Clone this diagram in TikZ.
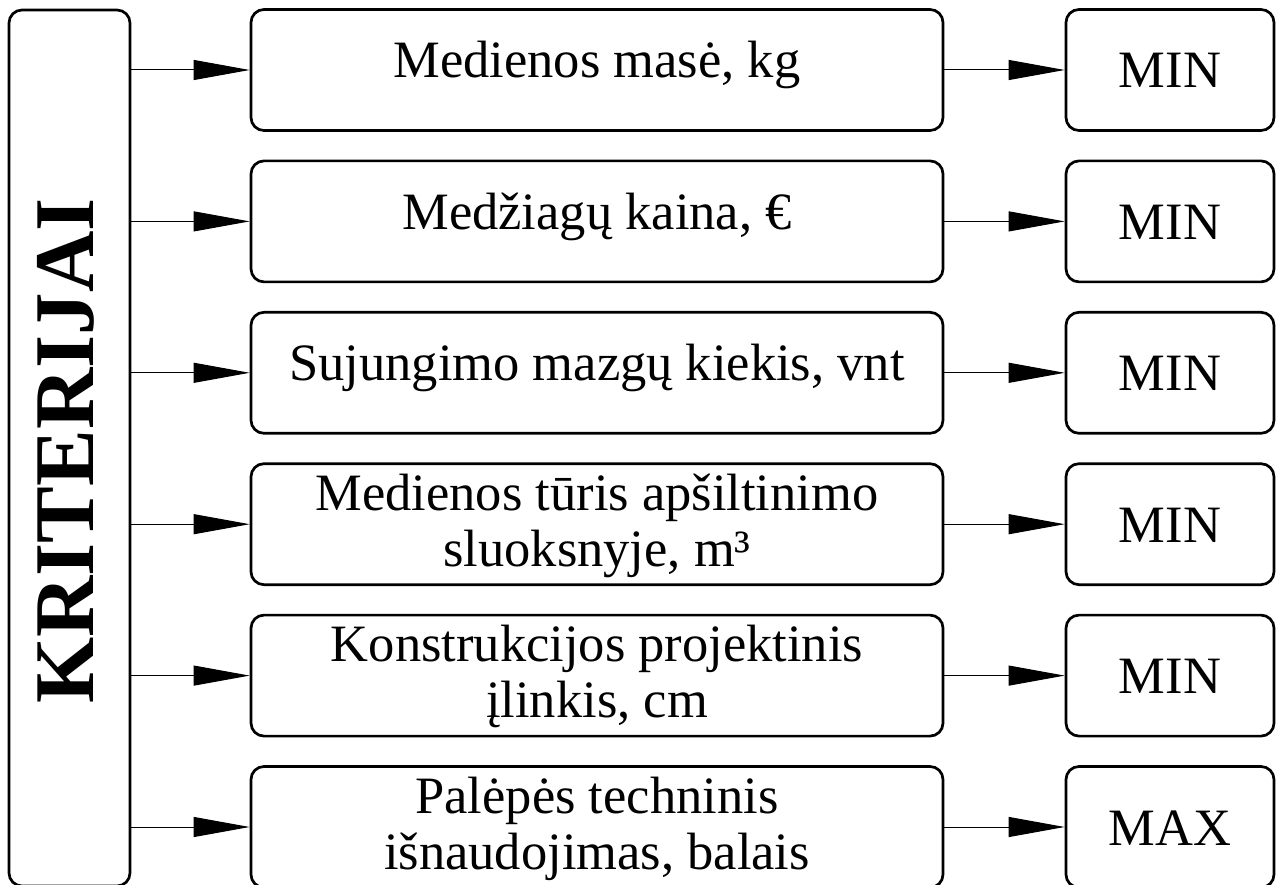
\documentclass[tikz,border=0pt]{standalone}
\usepackage{fontspec}
\setmainfont{Liberation Serif}
\newfontfamily\kfont{Liberation Serif}
\usetikzlibrary{arrows.meta}
\begin{document}
\begin{tikzpicture}[x=1pt,y=-1pt,
  box/.style={draw, line width=2.7pt, rounded corners=13pt, inner sep=0pt},
  midbox/.style={box, minimum width=692pt, minimum height=121pt},
  resbox/.style={box, minimum width=208pt, minimum height=121pt},
  conn/.style={line width=1pt, -{Triangle[length=56pt,width=20pt]}},
  lbl/.style={font=\fontsize{52.5}{56}\selectfont, align=center, anchor=base, inner sep=0pt},
]
\useasboundingbox (0,0) rectangle (1283,885);
\node[box, minimum width=121pt, minimum height=876pt] (k) at (69.5,448) {};
\node[rotate=90, anchor=base, inner sep=0pt, font=\kfont\bfseries\fontsize{85}{85}\selectfont] (kt) at (93,451) {KRITERIJAI};

\node[midbox] (m1) at (597,70) {};
\node[midbox] (m2) at (597,221.4) {};
\node[midbox] (m3) at (597,372.8) {};
\node[midbox] (m4) at (597,524.2) {};
\node[midbox] (m5) at (597,675.6) {};
\node[midbox] (m6) at (597,827) {};

\node[resbox] (r1) at (1170,70) {};
\node[resbox] (r2) at (1170,221.4) {};
\node[resbox] (r3) at (1170,372.8) {};
\node[resbox] (r4) at (1170,524.2) {};
\node[resbox] (r5) at (1170,675.6) {};
\node[resbox] (r6) at (1170,827) {};

\node[lbl] (t1) at (597,78) {Medienos masė, kg};
\node[lbl] (t2) at (597,229.4) {Medžiagų kaina, €};
\node[lbl] (t3) at (597,380.8) {Sujungimo mazgų kiekis, vnt};
\node[lbl] (t4) at (597,566.2) {Medienos tūris apšiltinimo\\sluoksnyje, m³};
\node[lbl] (t5) at (597,717.6) {Konstrukcijos projektinis\\įlinkis, cm};
\node[lbl] (t6) at (597,869) {Palėpės techninis\\išnaudojimas, balais};

\node[lbl] (v1) at (1170,88) {MIN};
\node[lbl] (v2) at (1170,239.4) {MIN};
\node[lbl] (v3) at (1170,390.8) {MIN};
\node[lbl] (v4) at (1170,542.2) {MIN};
\node[lbl] (v5) at (1170,693.6) {MIN};
\node[lbl] (v6) at (1170,845) {MAX};

\foreach \i in {1,...,6} {
  \draw[conn] (k.east |- m\i.west) -- (m\i.west);
  \draw[conn] (m\i.east) -- (r\i.west);
}
\end{tikzpicture}
\end{document}
